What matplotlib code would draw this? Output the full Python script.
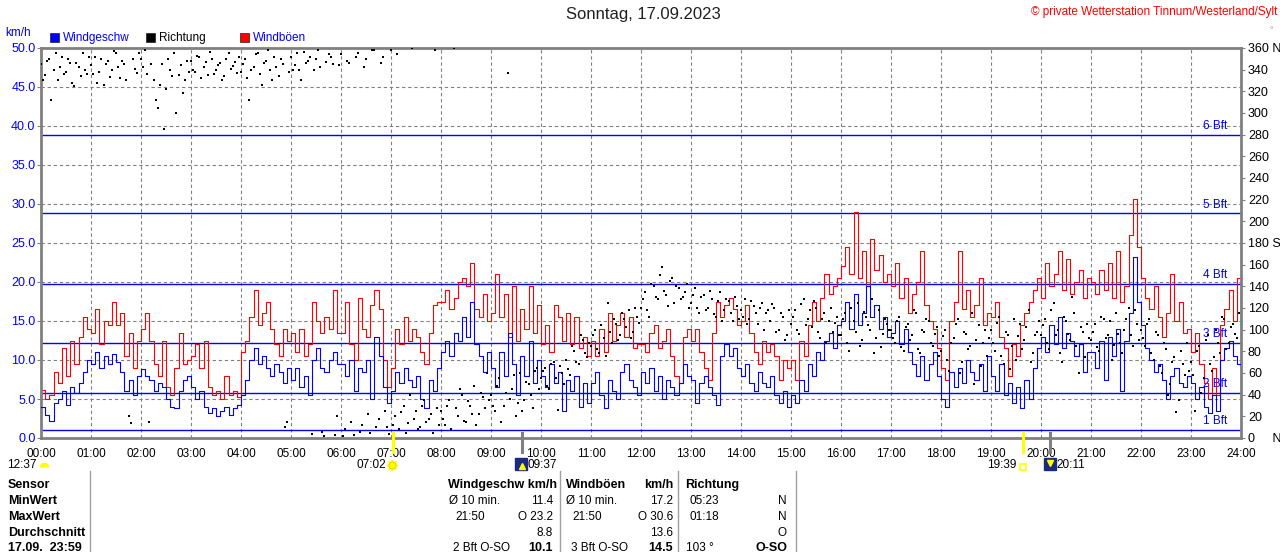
import matplotlib
matplotlib.use('Agg')
import matplotlib.pyplot as plt
import numpy as np

plt.rcParams['font.family'] = ['Liberation Sans', 'DejaVu Sans']

# wind speed, km/h, one reading per 5 minutes (00:00 .. 24:00)
windgeschw = [
    4.0, 3.0, 2.2, 4.5, 5.0, 6.0, 4.2, 6.5, 5.8, 7.0, 8.5, 10.0,
    9.5, 11.0, 9.0, 10.5, 9.5, 10.8, 9.8, 8.5, 6.0, 7.5, 5.5, 8.0,
    8.8, 8.0, 7.5, 6.0, 7.0, 6.5, 5.0, 4.0, 3.8, 6.0, 7.5, 8.0,
    6.5, 5.0, 6.0, 4.0, 3.2, 3.8, 2.8, 3.5, 4.0, 3.0, 3.8, 4.2,
    5.5, 7.5, 10.0, 11.5, 9.5, 10.5, 9.0, 8.0, 9.5, 8.5, 7.0, 9.0,
    7.5, 9.0, 6.5, 8.0, 5.5, 10.0, 11.5, 9.0, 8.5, 10.0, 11.0, 9.5,
    9.5, 8.0, 10.0, 6.0, 9.0, 8.5, 10.0, 5.0, 13.0, 10.5, 6.5, 4.5,
    6.0, 8.5, 7.0, 9.0, 7.5, 6.5, 8.0, 5.0, 3.8, 7.5, 6.0, 9.0,
    11.0, 12.5, 10.5, 13.5, 12.5, 15.5, 13.0, 17.5, 12.0, 10.5, 8.5, 11.0,
    9.0, 6.5, 11.0, 8.0, 13.5, 9.5, 5.5, 10.5, 8.0, 12.5, 7.0, 10.0,
    8.0, 6.5, 9.5, 7.0, 8.5, 3.5, 7.5, 6.0, 8.0, 4.0, 7.0, 4.5,
    7.0, 8.5, 5.5, 3.8, 7.5, 6.0, 5.0, 8.5, 9.5, 7.5, 6.5, 5.5,
    8.5, 7.0, 9.0, 6.0, 8.0, 5.0, 7.5, 6.5, 5.5, 7.0, 9.5, 8.0,
    7.5, 4.5, 7.0, 8.0, 6.5, 5.5, 4.2, 10.5, 12.0, 10.5, 11.5, 9.0,
    8.0, 9.5, 7.0, 6.0, 8.5, 7.0, 6.5, 8.0, 5.5, 4.5, 6.0, 4.0,
    5.5, 4.5, 7.5, 6.0, 9.5, 8.0, 11.0, 10.0, 12.5, 13.5, 11.5, 14.5,
    15.0, 17.5, 14.0, 18.5, 14.5, 16.0, 19.5, 15.5, 17.0, 14.0, 15.5, 13.0,
    13.5, 15.0, 12.0, 14.0, 11.0, 9.5, 8.0, 10.5, 7.5, 9.5, 11.0, 8.0,
    5.0, 4.0, 8.5, 6.5, 9.0, 7.0, 10.0, 8.5, 7.5, 9.5, 6.0, 10.5,
    8.0, 6.0, 9.5, 5.5, 7.0, 4.5, 6.5, 3.8, 7.5, 5.0, 9.0, 11.5,
    13.0, 11.0, 14.5, 12.0, 15.5, 11.5, 13.5, 12.5, 10.5, 12.0, 8.5, 11.0,
    11.0, 9.0, 12.5, 7.5, 13.0, 10.5, 14.0, 6.0, 12.5, 16.0, 23.2, 17.5,
    14.5, 11.5, 10.0, 8.5, 9.5, 7.5, 5.0, 8.0, 9.0, 7.0, 6.5, 8.0,
    7.0, 5.0, 6.5, 4.0, 3.2, 5.5, 3.5, 10.0, 11.5, 12.5, 10.5, 9.5,
    9.0,
]

# gusts, km/h, same timestamps
windboeen = [
    6.2, 5.0, 5.5, 8.5, 7.0, 11.5, 8.0, 12.5, 9.5, 13.0, 15.5, 14.0,
    13.5, 16.5, 12.0, 15.0, 14.5, 17.5, 14.5, 16.0, 10.5, 13.5, 9.0, 12.5,
    14.0, 16.0, 12.5, 9.5, 8.0, 12.5, 6.5, 5.5, 9.0, 13.5, 9.5, 10.0,
    10.5, 12.0, 9.0, 12.5, 6.5, 5.5, 6.0, 5.0, 8.0, 5.5, 6.0, 5.2,
    11.0, 12.5, 15.5, 19.0, 14.5, 16.0, 17.5, 14.0, 12.0, 10.5, 14.0, 12.5,
    13.5, 11.0, 14.0, 10.5, 12.0, 17.5, 15.0, 13.5, 15.5, 14.0, 19.0, 13.5,
    13.5, 17.5, 12.0, 10.0, 18.0, 14.0, 13.0, 17.0, 19.0, 16.5, 10.0, 6.5,
    9.0, 14.0, 12.0, 15.5, 12.5, 14.0, 13.0, 11.0, 9.5, 13.5, 17.0, 17.5,
    17.5, 19.0, 16.5, 18.0, 20.0, 20.5, 19.5, 22.5, 16.5, 15.5, 18.5, 15.0,
    16.0, 21.0, 15.5, 18.5, 13.0, 19.5, 12.5, 16.5, 14.0, 19.5, 13.5, 17.0,
    12.0, 14.5, 11.0, 17.0, 15.5, 12.5, 16.0, 12.0, 15.5, 11.5, 13.0, 10.5,
    12.5, 10.5, 14.0, 11.0, 16.0, 12.5, 14.5, 16.0, 13.0, 15.5, 11.5, 12.0,
    12.0, 11.0, 13.5, 14.5, 11.5, 12.5, 14.0, 10.5, 8.0, 7.0, 13.0, 14.0,
    12.5, 14.0, 11.0, 9.0, 7.5, 13.5, 17.5, 15.5, 17.0, 18.0, 16.5, 14.5,
    15.0, 17.0, 13.5, 11.0, 9.5, 12.5, 11.0, 12.0, 10.5, 7.5, 10.0, 9.0,
    10.0, 7.5, 12.5, 10.5, 14.5, 17.5, 15.0, 18.0, 21.0, 18.5, 19.5, 20.5,
    22.0, 24.5, 21.0, 29.0, 20.5, 24.0, 19.5, 25.5, 21.5, 23.5, 20.0, 21.0,
    19.5, 22.5, 18.0, 20.5, 16.0, 18.5, 20.0, 24.0, 17.0, 15.0, 14.0, 11.5,
    9.0, 7.5, 15.0, 17.5, 24.0, 16.5, 19.0, 15.5, 17.0, 20.5, 14.5, 16.0,
    15.5, 17.5, 13.0, 11.5, 8.0, 12.0, 10.5, 14.5, 16.0, 17.5, 19.0, 20.5,
    18.0, 22.5, 19.5, 21.0, 24.0, 19.0, 23.0, 18.5, 20.0, 21.5, 18.0, 20.5,
    20.0, 18.5, 21.5, 19.0, 22.5, 18.0, 24.0, 17.5, 19.5, 26.0, 30.6, 24.5,
    20.5, 18.0, 16.5, 19.5, 15.5, 13.0, 16.0, 21.0, 15.0, 17.5, 13.5, 14.0,
    11.0, 13.5, 9.5, 7.0, 5.0, 9.0, 5.5, 14.5, 16.5, 19.0, 15.0, 20.5,
    13.0,
]

# wind direction, degrees; two samples per 5 minutes (at :00 and :02.5)
richtung_a = [
    345, 335, 350, 340, 330, 352, 338, 346, 325, 342, 355, 336,
    344, 352, 338, 326, 348, 340, 355, 332, 345, 20, 350, 337,
    350, 358, 15, 330, 305, 345, 322, 340, 355, 335, 318, 348,
    348, 338, 352, 342, 335, 350, 340, 346, 334, 355, 343, 337,
    338, 350, 312, 342, 355, 326, 348, 340, 352, 334, 345, 15,
    352, 344, 340, 356, 348, 4, 350, 342, 2, 354, 345, 20,
    354, 8, 346, 3, 355, 12, 350, 5, 358, 18, 352, 10,
    358, 20, 8, 30, 14, 360, 25, 10, 35, 18, 5, 28,
    25, 12, 35, 360, 20, 40, 15, 30, 48, 22, 38, 60,
    40, 25, 55, 30, 337, 45, 20, 60, 35, 50, 28, 65,
    55, 65, 45, 70, 26, 60, 72, 58, 80, 68, 90, 75,
    85, 100, 78, 92, 125, 88, 105, 95, 110, 118, 98, 112,
    120, 135, 112, 140, 128, 158, 132, 145, 125, 138, 130, 142,
    125, 138, 115, 132, 120, 128, 112, 135, 118, 126, 108, 122,
    118, 128, 110, 122, 105, 125, 115, 108, 120, 100, 112, 95,
    105, 118, 96, 128, 110, 102, 120, 92, 115, 108, 98, 112,
    95, 115, 80, 108, 125, 90, 112, 100, 78, 118, 96, 105,
    100, 88, 112, 80, 105, 95, 115, 78, 98, 108, 85, 102,
    80, 100, 62, 92, 110, 70, 96, 85, 50, 104, 88, 76,
    100, 80, 112, 68, 95, 85, 72, 105, 90, 118, 78, 98,
    95, 110, 82, 125, 100, 70, 108, 90, 115, 60, 98, 105,
    90, 105, 80, 110, 95, 72, 115, 88, 100, 120, 85, 105,
    100, 85, 110, 72, 95, 60, 82, 50, 75, 35, 68, 88,
    70, 25, 85, 55, 95, 62, 100, 78, 110, 88, 105, 92,
]
richtung_b = [
    330, 348, 312, 355, 342, 336, 350, 328, 346, 334, 340, 352,
    336, 328, 350, 345, 333, 357, 342, 348, 330, 14, 341, 355,
    342, 336, 345, 312, 326, 285, 350, 334, 300, 344, 330, 338,
    340, 353, 332, 347, 356, 336, 344, 330, 350, 341, 347, 352,
    345, 332, 340, 354, 336, 346, 358, 330, 342, 350, 10, 338,
    340, 355, 330, 346, 352, 340, 358, 6, 347, 352, 3, 344,
    2, 348, 15, 352, 6, 342, 22, 358, 10, 346, 25, 4,
    12, 354, 24, 5, 40, 18, 8, 30, 15, 22, 358, 12,
    18, 30, 8, 28, 45, 16, 34, 22, 12, 42, 28, 35,
    30, 48, 15, 42, 36, 58, 32, 25, 52, 40, 62, 45,
    62, 48, 68, 55, 66, 50, 64, 85, 70, 95, 78, 88,
    95, 82, 104, 76, 98, 110, 90, 115, 102, 92, 120, 106,
    128, 118, 142, 130, 150, 136, 122, 148, 140, 128, 135, 120,
    132, 120, 130, 118, 136, 114, 126, 108, 128, 115, 130, 110,
    112, 105, 126, 115, 120, 100, 118, 124, 98, 115, 90, 118,
    112, 100, 124, 104, 118, 126, 98, 110, 88, 120, 106, 95,
    110, 88, 120, 98, 85, 116, 104, 128, 92, 84, 110, 100,
    92, 108, 84, 102, 90, 118, 82, 100, 110, 88, 96, 76,
    94, 72, 88, 105, 60, 98, 82, 115, 90, 66, 100, 92,
    88, 106, 76, 98, 64, 110, 94, 82, 102, 70, 95, 108,
    104, 88, 118, 95, 78, 112, 96, 130, 85, 102, 75, 92,
    98, 84, 112, 92, 108, 86, 96, 78, 110, 95, 118, 90,
    92, 105, 78, 98, 66, 88, 40, 70, 24, 80, 58, 62,
    58, 80, 42, 90, 68, 75, 88, 112, 82, 102, 96, 115,
]

# Beaufort thresholds in km/h
bft_levels = [1.08, 5.76, 12.24, 19.8, 28.8, 38.88]
bft_labels = ['1 Bft', '2 Bft', '3 Bft', '4 Bft', '5 Bft', '6 Bft']

# sun / moon events (hours)
sun_times = [7 + 2 / 60, 19 + 39 / 60]
moon_times = [9 + 37 / 60, 20 + 11 / 60]

GRAY = '#808080'
BLUE = '#0000ff'

t_wind = np.arange(len(windgeschw)) * 5 / 60
t_dir_a = np.arange(len(richtung_a)) * 5 / 60
t_dir_b = t_dir_a + 2.5 / 60

fig = plt.figure(figsize=(12.8, 5.52), dpi=100)
W, H = 1280, 552
ax = fig.add_axes([41 / W, 1 - 438 / H, 1200 / W, 390 / H])
ax.set_xlim(0, 24)
ax.set_ylim(0, 50)

# dashed grid
for h in range(1, 24):
    ax.axvline(h, color=GRAY, lw=0.8, ls=(0, (3, 2.5)), zorder=0.5)
for v in range(5, 50, 5):
    ax.axhline(v, color=GRAY, lw=0.8, ls=(0, (3, 2.5)), zorder=0.5)

# Beaufort lines and labels
for lev, lab in zip(bft_levels, bft_labels):
    ax.axhline(lev, color=BLUE, lw=1.0, zorder=0.8)
    ax.text(23.72, lev + 0.35, lab, ha='right', va='bottom', color=BLUE,
            fontsize=8.5, zorder=0.9)

ax.plot(t_wind, windboeen, color='#ff0000', lw=0.8, drawstyle='steps-post', zorder=2)
ax.plot(t_wind, windgeschw, color=BLUE, lw=0.8, drawstyle='steps-post', zorder=3)

for s in ax.spines.values():
    s.set_color(GRAY)
    s.set_linewidth(2)

ax.set_yticks(np.arange(0, 50.1, 5))
ax.set_yticklabels([f'{v:.1f}' for v in np.arange(0, 50.1, 5)])
ax.tick_params(axis='y', colors=GRAY, labelcolor=BLUE, labelsize=9, length=3, pad=1)
ax.set_xticks(range(25))
ax.set_xticklabels([f'{h:02d}:00' for h in range(25)])
ax.tick_params(axis='x', length=0, labelsize=8.5, pad=7)

# direction on right axis
ax2 = ax.twinx()
ax2.set_ylim(0, 360)
ax2.plot(t_dir_a, richtung_a, 's', color='black', ms=1.6, mew=0, zorder=4)
ax2.plot(t_dir_b, richtung_b, 's', color='black', ms=1.6, mew=0, zorder=4)
for s in ax2.spines.values():
    s.set_visible(False)
rt = list(range(0, 361, 20))
rl = [str(v) for v in rt]
rl[0] = '0     N'
rl[9] = '180 S'
rl[-1] = '360 N'
ax2.set_yticks(rt)
ax2.set_yticklabels(rl)
ax2.tick_params(axis='y', colors=GRAY, labelcolor='black', labelsize=9, length=3, pad=2)

# sunrise / sunset and moon markers on the time axis
xf = ax.get_xaxis_transform()
for t in sun_times:
    ax.plot([t, t], [-0.035, 0.013], color='#ffff00', lw=2.2, transform=xf, clip_on=False, zorder=5)
for t in moon_times:
    ax.plot([t, t], [-0.035, 0.013], color=GRAY, lw=2.2, transform=xf, clip_on=False, zorder=5)

# overlay in pixel coordinates for texts around the plot
ov = fig.add_axes([0, 0, 1, 1])
ov.set_xlim(0, W)
ov.set_ylim(H, 0)
ov.axis('off')

ov.text(643, 15, 'Sonntag, 17.09.2023', ha='center', va='center', fontsize=12, color='#202020')
ov.text(1277, 12, '© private Wetterstation Tinnum/Westerland/Sylt', ha='right', va='center',
        fontsize=8.5, color='#ff0000')
ov.text(1271, 31, '°', ha='center', va='center', fontsize=6, color=GRAY)
ov.text(5, 33, 'km/h', ha='left', va='center', fontsize=8.5, color=BLUE)

for x0, fc, lab, tc in [(50, BLUE, 'Windgeschw', BLUE), (146, 'black', 'Richtung', 'black'),
                        (240, '#ff0000', 'Windböen', BLUE)]:
    ov.add_patch(plt.Rectangle((x0, 33), 9, 9, facecolor=fc, edgecolor='#202020', lw=0.5))
    ov.text(x0 + 13, 38, lab, ha='left', va='center', fontsize=8.5, color=tc)

# event labels
ev_y = 465
ov.text(37, ev_y, '12:37', ha='right', va='center', fontsize=8.5)
ov.plot([44], [ev_y + 2], marker='o', ms=7, color='#ffff00', fillstyle='top',
        markerfacecoloralt='none', mec='none')
ov.text(386, ev_y, '07:02', ha='right', va='center', fontsize=8.5)
ov.plot([392], [ev_y], marker=(8, 1, 0), ms=8, color='#ffff00')
ov.plot([392], [ev_y], marker='o', ms=5, color='#ffff00', mec='#e0c000', mew=0.5)
ov.plot([521], [ev_y - 1], marker='s', ms=8, color='#1a2a80')
ov.plot([522], [ev_y + 1], marker='^', ms=4, color='#ffff00')
ov.text(527, ev_y, '09:37', ha='left', va='center', fontsize=8.5)
ov.text(1016, ev_y, '19:39', ha='right', va='center', fontsize=8.5)
ov.plot([1023], [ev_y + 2], marker='s', ms=5, mfc='none', mec='#ffff00', mew=1.2)
ov.plot([1050], [ev_y - 1], marker='s', ms=8, color='#1a2a80')
ov.plot([1050], [ev_y - 2], marker='v', ms=4, color='#ffff00')
ov.text(1056, ev_y, '20:11', ha='left', va='center', fontsize=8.5)

# summary table
for xv in [90, 560, 678, 796]:
    ov.plot([xv, xv], [471, 552], color='#a0a0a0', lw=1)

rows_y = [485, 501, 517, 533, 548]
first_col = ['Sensor', 'MinWert', 'MaxWert', 'Durchschnitt', '17.09.  23:59']
for y, lab in zip(rows_y, first_col):
    ov.text(8, y, lab, ha='left', va='center', fontsize=9, fontweight='bold')

ov.text(448, rows_y[0], 'Windgeschw km/h', ha='left', va='center', fontsize=9, fontweight='bold')
ov.text(449, rows_y[1], 'Ø 10 min.', ha='left', va='center', fontsize=8.5)
ov.text(553, rows_y[1], '11.4', ha='right', va='center', fontsize=8.5)
ov.text(455, rows_y[2], '21:50', ha='left', va='center', fontsize=8.5)
ov.text(553, rows_y[2], 'O 23.2', ha='right', va='center', fontsize=8.5)
ov.text(553, rows_y[3], '8.8', ha='right', va='center', fontsize=8.5)
ov.text(453, rows_y[4], '2 Bft O-SO', ha='left', va='center', fontsize=8.5)
ov.text(553, rows_y[4], '10.1', ha='right', va='center', fontsize=9, fontweight='bold')

ov.text(566, rows_y[0], 'Windböen', ha='left', va='center', fontsize=9, fontweight='bold')
ov.text(673, rows_y[0], 'km/h', ha='right', va='center', fontsize=9, fontweight='bold')
ov.text(566, rows_y[1], 'Ø 10 min.', ha='left', va='center', fontsize=8.5)
ov.text(673, rows_y[1], '17.2', ha='right', va='center', fontsize=8.5)
ov.text(572, rows_y[2], '21:50', ha='left', va='center', fontsize=8.5)
ov.text(673, rows_y[2], 'O 30.6', ha='right', va='center', fontsize=8.5)
ov.text(673, rows_y[3], '13.6', ha='right', va='center', fontsize=8.5)
ov.text(571, rows_y[4], '3 Bft O-SO', ha='left', va='center', fontsize=8.5)
ov.text(673, rows_y[4], '14.5', ha='right', va='center', fontsize=9, fontweight='bold')

ov.text(685, rows_y[0], 'Richtung', ha='left', va='center', fontsize=9, fontweight='bold')
ov.text(690, rows_y[1], '05:23', ha='left', va='center', fontsize=8.5)
ov.text(787, rows_y[1], 'N', ha='right', va='center', fontsize=8.5)
ov.text(690, rows_y[2], '01:18', ha='left', va='center', fontsize=8.5)
ov.text(787, rows_y[2], 'N', ha='right', va='center', fontsize=8.5)
ov.text(787, rows_y[3], 'O', ha='right', va='center', fontsize=8.5)
ov.text(686, rows_y[4], '103 °', ha='left', va='center', fontsize=8.5)
ov.text(787, rows_y[4], 'O-SO', ha='right', va='center', fontsize=9, fontweight='bold')

fig.savefig('out.png', dpi=100)
plt.close(fig)
